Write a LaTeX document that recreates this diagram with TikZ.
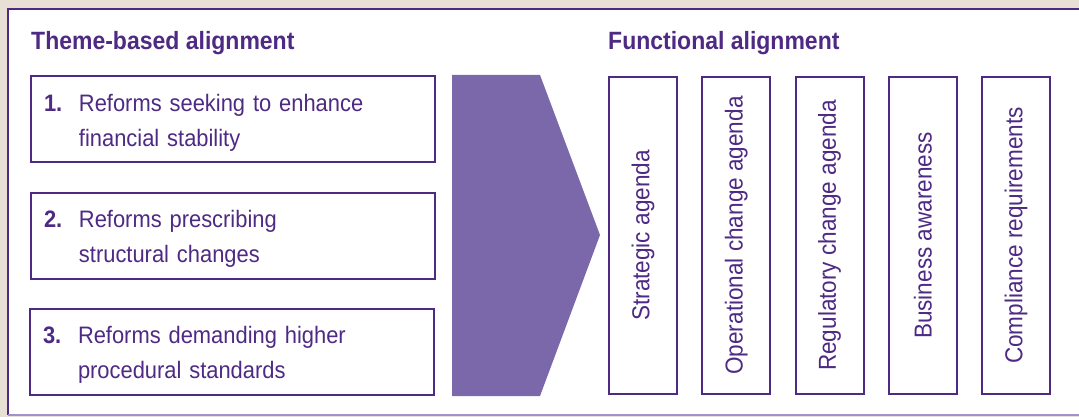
\documentclass[tikz,border=0pt]{standalone}
\usepackage{fontspec}
\setmainfont{Liberation Sans}[FakeStretch=0.92]
\usetikzlibrary{positioning}
\definecolor{themepurple}{RGB}{78,42,132}
\definecolor{arrowpurple}{RGB}{122,104,171}
\definecolor{framelight}{RGB}{162,144,202}
\definecolor{paper}{RGB}{232,224,212}
\newcommand{\reformno}[1]{\rule{0pt}{24pt}\makebox[35pt][l]{\textbf{#1}}}
\tikzset{
  reform/.style={draw=themepurple,line width=2pt,minimum width=404pt,minimum height=86pt,
    text width=378pt,align=left,inner xsep=13pt,text=themepurple,
    font=\fontsize{23.8}{34.5}\selectfont},
  func/.style={draw=themepurple,line width=2pt,minimum width=317pt,minimum height=68pt,
    rotate=90,text=themepurple,font=\fontsize{24.5}{28}\selectfont},
  heading/.style={text=themepurple,inner sep=0pt,anchor=base west,
    font=\bfseries\fontsize{25}{28}\selectfont}
}

\begin{document}
\begin{tikzpicture}[x=1pt,y=-1pt]
  \clip (0,0) rectangle (1079,417);
  \fill[paper] (0,0) rectangle (1079,417);
  \fill[white] (8,9) rectangle (1085,415);
  \draw[themepurple,line width=2.5pt] (1085,9) -- (8,9) -- (8,415);
  \draw[framelight,line width=2.5pt] (8,415) -- (1085,415);

  \node[heading] (themehead) at (31,50) {Theme-based alignment};
  \node[heading] (funchead) at (608,50) {Functional alignment};

  \node[reform] (stability) at (233,119.5)
    {\reformno{1.}Reforms seeking to enhance\\\hspace*{35pt}financial stability};
  \node[reform] (structural) at (233,235.5)
    {\reformno{2.}Reforms prescribing\\\hspace*{35pt}structural changes};
  \node[reform] (procedural) at (232,351.5)
    {\reformno{3.}Reforms demanding higher\\\hspace*{35pt}procedural standards};

  \fill[arrowpurple] (452,75) -- (540,75) -- (600,235) -- (540,396) -- (452,396) -- cycle;

  \foreach \name/\label [count=\i from 0] in {strategic/Strategic agenda,
      operational/Operational change agenda,regulatory/Regulatory change agenda,
      business/Business awareness,compliance/Compliance requirements}
    \node[func] (\name) at (643+93.25*\i,235.5) {\label};
\end{tikzpicture}
\end{document}
